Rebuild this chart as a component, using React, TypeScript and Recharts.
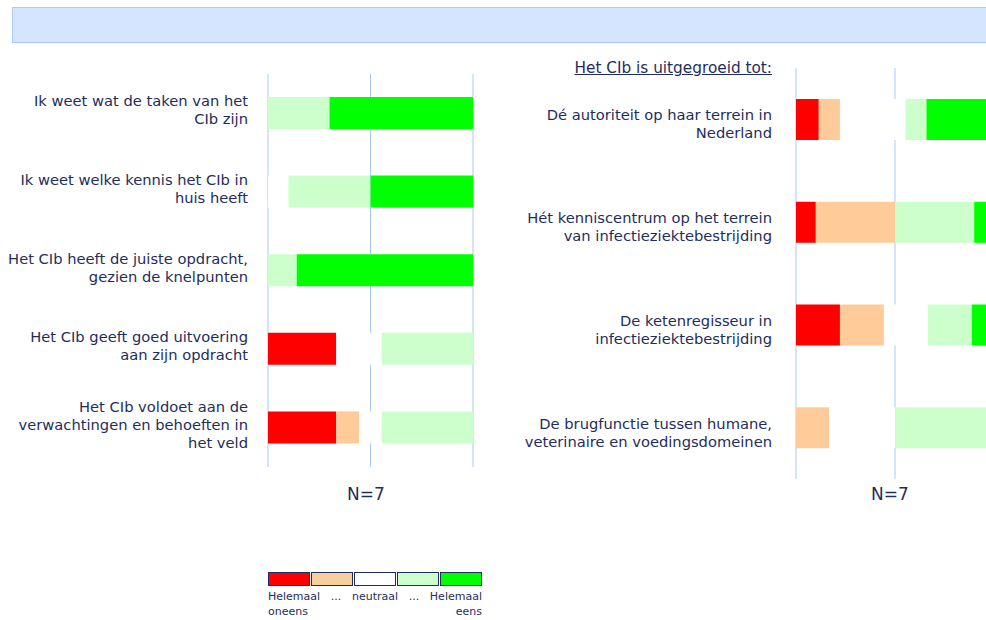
import { BarChart, Bar, XAxis, YAxis, CartesianGrid } from "recharts";

const FONT = "'DejaVu Sans', Verdana, sans-serif";
const NAVY = "#1f2d5c";
const GRID = "#a9c9f7";

// answer categories, left to right
const answerKeys = ["heelOneens", "oneens", "neutraal", "eens", "heelEens"];
const answerNames = ["Helemaal oneens", "...", "neutraal", "...", "Helemaal eens"];
const answerColors = ["#ff0000", "#ffcc99", "#ffffff", "#ccffcc", "#00ff00"];
const legendColors = ["#ff0000", "#f7cf9e", "#ffffff", "#ccffcc", "#00ff00"];

// left panel (percent of respondents)
const leftLabels = [
  "Ik weet wat de taken van het\nCIb zijn",
  "Ik weet welke kennis het CIb in\nhuis heeft",
  "Het CIb heeft de juiste opdracht,\ngezien de knelpunten",
  "Het CIb geeft goed uitvoering\naan zijn opdracht",
  "Het CIb voldoet aan de\nverwachtingen en behoeften in\nhet veld",
];
const leftHeelOneens = [0, 0, 0, 33.3, 33.3];
const leftOneens = [0, 0, 0, 0, 11.1];
const leftNeutraal = [0, 10, 0, 22.2, 11.1];
const leftEens = [30, 40, 14, 44.5, 44.5];
const leftHeelEens = [70, 50, 86, 0, 0];

// right panel
const rightTitle = "Het CIb is uitgegroeid tot:";
const rightLabels = [
  "Dé autoriteit op haar terrein in\nNederland",
  "Hét kenniscentrum op het terrein\nvan infectieziektebestrijding",
  "De ketenregisseur in\ninfectieziektebestrijding",
  "De brugfunctie tussen humane,\nveterinaire en voedingsdomeinen",
];
const rightHeelOneens = [11.5, 10, 22.2, 0];
const rightOneens = [10.7, 40, 22.2, 16.7];
const rightNeutraal = [33.1, 0, 22.2, 33.3];
const rightEens = [10.6, 40, 22.2, 50];
const rightHeelEens = [34.1, 10, 11.2, 0];

const xTicks = [0, 50, 100];
const nLabel = "N=7";

function buildRows(labels: string[], cols: number[][]) {
  return labels.map((label, i) => {
    const row: Record<string, any> = { label };
    answerKeys.forEach((k, j) => {
      row[k] = cols[j][i];
    });
    return row;
  });
}

const leftData = buildRows(leftLabels, [leftHeelOneens, leftOneens, leftNeutraal, leftEens, leftHeelEens]);
const rightData = buildRows(rightLabels, [rightHeelOneens, rightOneens, rightNeutraal, rightEens, rightHeelEens]);

function LabelTick(props: any) {
  const { x, y, payload, gap, shift } = props;
  const lines = String(payload.value).split("\n");
  const lh = 18;
  const start = y + shift - ((lines.length - 1) * lh) / 2;
  return (
    <text x={x - gap} y={start} textAnchor="end" fill={NAVY} fontFamily={FONT} fontSize={14.7} dominantBaseline="central">
      {lines.map((ln, i) => (
        <tspan key={i} x={x - gap} y={start + i * lh}>
          {ln}
        </tspan>
      ))}
    </text>
  );
}

function Panel({ data, width, height, margin, axisWidth, barSize, gap, shift }: any) {
  return (
    <BarChart layout="vertical" width={width} height={height} data={data} margin={margin}>
      <CartesianGrid horizontal={false} stroke={GRID} strokeWidth={1} />
      <XAxis type="number" domain={[0, 100]} ticks={xTicks} hide />
      <YAxis
        type="category"
        dataKey="label"
        width={axisWidth}
        axisLine={false}
        tickLine={false}
        tickSize={0}
        tickMargin={0}
        interval={0}
        tick={(p: any) => <LabelTick {...p} gap={gap} shift={shift} />}
      />
      {answerKeys.map((k, i) => (
        <Bar key={k} dataKey={k} name={answerNames[i]} stackId="s" fill={answerColors[i]} barSize={barSize} isAnimationActive={false} />
      ))}
    </BarChart>
  );
}

export default function App() {
  return (
    <div style={{ position: "absolute", left: 0, top: 0, width: 986, height: 620, overflow: "hidden", background: "#fff", fontFamily: FONT, color: NAVY }}>
      <div style={{ position: "absolute", left: 12, top: 7, width: 990, height: 34, background: "#d5e5ff", border: "1px solid #a9cbfb" }} />

      <div style={{ position: "absolute", left: 0, top: 0 }}>
        <Panel data={leftData} width={478} height={500} margin={{ top: 74, right: 5, bottom: 33, left: 0 }} axisWidth={268} barSize={32} gap={20} shift={-4} />
      </div>

      <div style={{ position: "absolute", left: 500, top: 0 }}>
        <Panel data={rightData} width={500} height={500} margin={{ top: 68, right: 6, bottom: 21, left: 0 }} axisWidth={296} barSize={41} gap={24} shift={4} />
      </div>

      <div style={{ position: "absolute", right: 986 - 772, top: 59, fontSize: 15.3, textDecoration: "underline", whiteSpace: "nowrap" }}>{rightTitle}</div>

      <div style={{ position: "absolute", left: 316, width: 100, textAlign: "center", top: 484, fontSize: 17 }}>{nLabel}</div>
      <div style={{ position: "absolute", left: 840, width: 100, textAlign: "center", top: 484, fontSize: 17 }}>{nLabel}</div>

      <div style={{ position: "absolute", left: 268, top: 572, display: "flex", gap: 1 }}>
        {legendColors.map((c, i) => (
          <div key={i} style={{ width: 40, height: 12, background: c, border: `1px solid ${NAVY}` }} />
        ))}
      </div>
      <div style={{ position: "absolute", left: 268, top: 589, width: 214, fontSize: 11, lineHeight: "15px" }}>
        <div style={{ display: "flex", justifyContent: "space-between" }}>
          <span>{answerNames[0].split(" ")[0]}</span>
          <span>{answerNames[1]}</span>
          <span>{answerNames[2]}</span>
          <span>{answerNames[3]}</span>
          <span>{answerNames[4].split(" ")[0]}</span>
        </div>
        <div style={{ display: "flex", justifyContent: "space-between" }}>
          <span>{answerNames[0].split(" ")[1]}</span>
          <span>{answerNames[4].split(" ")[1]}</span>
        </div>
      </div>
    </div>
  );
}
